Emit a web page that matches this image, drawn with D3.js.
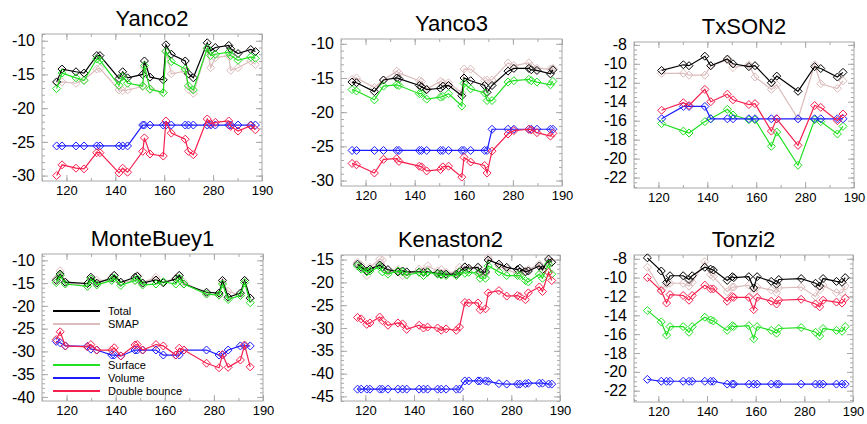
<!DOCTYPE html>
<html>
<head>
<meta charset="utf-8">
<script src="https://cdn.jsdelivr.net/npm/d3@7"></script>
<style>
  body { margin: 0; background: #fff; }
  svg { display: block; font-family: Helvetica, Arial, "Liberation Sans", sans-serif; }
</style>
</head>
<body>
<svg id="chart" width="867" height="424"></svg>
<script>
// series shared by every panel
const seriesNames = ['Total', 'SMAP', 'Surface', 'Volume', 'Double bounce'];
const seriesColors = ['#000000', '#dcbcbc', '#22e022', '#1c1cff', '#f5204e'];

const xDomain = [110, 200];
const xTicks = [120, 140, 160, 180, 200];
const xTickLabels = ['120', '140', '160', '280', '190'];

// Yanco2
const yanco2Days = [116.0,118.2,123.9,127.2,132.4,133.7,141.5,143.0,145.0,151.2,151.9,154.2,159.6,160.7,162.9,168.6,169.9,171.9,177.6,179.0,180.9,186.4,187.2,190.2,195.4,197.3];
const yanco2Total = [-16.1,-14.2,-14.6,-14.8,-12.2,-12.2,-15.6,-14.6,-15.5,-15.0,-13.0,-15.4,-15.8,-10.6,-12.0,-13.0,-14.9,-15.5,-10.3,-11.5,-11.0,-10.7,-11.2,-11.9,-11.3,-11.6];
const yanco2Smap = [-16.2,-16.1,-16.3,-15.8,-14.2,-14.1,-17.3,-17.4,-17.3,-16.8,-14.0,-17.1,-17.7,-11.5,-14.9,-14.5,-17.2,-17.8,-11.2,-14.0,-12.5,-12.2,-14.4,-14.0,-13.0,-13.5];
const yanco2Surface = [-17.1,-14.8,-15.5,-15.9,-12.7,-12.9,-16.6,-15.3,-16.3,-16.7,-13.7,-17.2,-17.7,-11.6,-13.1,-14.2,-16.7,-17.3,-11.1,-12.2,-12.0,-11.7,-12.2,-12.9,-12.4,-12.6];
const yanco2Volume = [-25.6,-25.6,-25.6,-25.6,-25.6,-25.6,-25.6,-25.6,-25.6,-22.5,-22.5,-22.5,-22.5,-22.5,-22.5,-22.5,-22.5,-22.5,-22.5,-22.5,-22.5,-22.5,-22.5,-22.5,-22.5,-22.5];
const yanco2Double = [-30.0,-28.4,-28.9,-29.0,-26.6,-26.6,-29.6,-28.9,-29.5,-26.4,-24.4,-26.8,-27.1,-21.9,-23.7,-24.6,-26.4,-26.9,-21.6,-22.3,-22.1,-21.9,-22.7,-23.4,-22.6,-23.2];

// Yanco3
const yanco3Days = [114.5,116.3,123.6,127.3,132.7,133.6,141.9,142.8,144.9,150.5,151.5,153.8,159.2,160.1,162.8,168.5,169.5,171.5,178.0,180.4,186.5,187.5,189.8,195.3,196.3];
const yanco3Total = [-15.6,-15.7,-17.0,-15.3,-15.0,-15.1,-16.1,-16.3,-16.7,-16.5,-16.2,-16.1,-17.6,-15.0,-15.4,-16.1,-17.1,-16.1,-14.0,-13.6,-13.6,-13.8,-13.9,-14.4,-13.8];
const yanco3Smap = [-15.2,-15.0,-16.4,-15.3,-14.0,-14.3,-15.4,-15.5,-16.6,-15.5,-15.7,-15.7,-17.2,-13.7,-13.7,-15.4,-15.3,-15.3,-12.8,-13.2,-12.8,-13.3,-13.6,-13.7,-13.6];
const yanco3Surface = [-16.7,-16.9,-18.2,-16.2,-16.0,-16.1,-17.3,-17.3,-18.1,-17.8,-17.7,-17.3,-19.1,-15.8,-16.6,-17.2,-18.3,-18.3,-15.6,-15.4,-15.2,-15.4,-15.6,-16.0,-15.5];
const yanco3Volume = [-25.6,-25.6,-25.6,-25.6,-25.6,-25.6,-25.6,-25.6,-25.6,-25.6,-25.6,-25.6,-25.6,-25.6,-25.6,-25.6,-25.6,-22.5,-22.5,-22.5,-22.5,-22.5,-22.5,-22.5,-22.5];
const yanco3Double = [-27.5,-27.7,-28.9,-26.9,-26.8,-27.2,-27.9,-28.0,-28.6,-28.4,-28.0,-27.9,-29.5,-26.6,-27.3,-27.8,-28.9,-25.7,-23.2,-22.7,-22.5,-22.6,-23.0,-23.5,-23.1];

// TxSON2
const txson2Days = [121.3,130.2,132.5,139.0,141.4,148.2,150.5,157.0,159.5,166.2,168.4,177.1,183.9,186.4,193.2,195.5];
const txson2Total = [-10.7,-10.1,-10.2,-9.2,-10.2,-9.5,-10.0,-10.3,-10.2,-12.0,-11.3,-12.9,-10.3,-10.5,-11.4,-10.9];
const txson2Smap = [-11.0,-11.0,-11.2,-11.2,-10.2,-9.6,-10.4,-10.1,-11.4,-12.7,-12.2,-15.8,-10.1,-12.1,-12.6,-11.8];
const txson2Surface = [-16.3,-17.1,-17.3,-16.1,-15.8,-14.8,-15.4,-15.9,-15.9,-18.7,-17.2,-20.7,-15.9,-16.1,-17.4,-16.6];
const txson2Volume = [-15.8,-14.5,-14.5,-14.5,-15.8,-15.8,-15.8,-15.8,-15.8,-15.8,-15.8,-15.8,-15.8,-15.8,-15.8,-15.8];
const txson2Double = [-14.9,-14.1,-14.4,-12.7,-14.0,-13.2,-13.8,-14.3,-14.2,-17.1,-15.8,-18.6,-14.4,-14.6,-16.0,-15.3];

// MonteBuey1
const monteDays = [115.8,117.4,119.5,128.5,129.9,132.3,138.4,139.4,142.1,147.9,148.8,151.0,156.4,159.4,164.5,165.9,167.8,177.0,182.1,183.5,185.8,190.8,192.5,194.8];
const monteTotal = [-14.4,-13.0,-14.8,-15.1,-13.7,-15.0,-13.9,-13.3,-14.8,-13.7,-13.5,-15.0,-14.3,-14.9,-14.1,-13.3,-15.2,-17.0,-17.2,-14.4,-18.1,-17.2,-14.4,-18.3];
const monteSmap = [-14.1,-12.3,-14.8,-15.7,-14.1,-14.4,-14.4,-13.3,-14.9,-14.4,-13.3,-14.9,-13.7,-14.9,-13.9,-13.3,-14.8,-17.4,-17.7,-14.9,-16.8,-17.7,-14.4,-18.3];
const monteSurface = [-14.9,-13.3,-15.2,-15.7,-14.1,-15.4,-14.4,-13.9,-15.5,-14.4,-14.1,-15.4,-15.2,-14.7,-15.2,-13.9,-15.2,-17.4,-17.6,-15.2,-18.6,-17.7,-14.9,-19.3];
const monteVolume = [-27.8,-28.1,-28.8,-28.9,-29.5,-29.7,-30.8,-30.8,-31.0,-29.7,-29.7,-29.7,-29.7,-30.8,-30.8,-30.8,-29.7,-29.7,-30.8,-30.8,-29.7,-28.8,-28.8,-28.8];
const monteDouble = [-27.4,-25.7,-28.8,-29.0,-28.5,-29.7,-29.7,-29.2,-31.0,-28.6,-28.5,-29.7,-28.5,-28.8,-30.8,-29.3,-29.7,-32.6,-33.6,-30.7,-33.5,-31.9,-28.6,-33.4];

// Kenaston2
const kenDays = [116.8,118.3,120.6,121.9,125.9,127.0,129.3,133.4,135.3,137.0,142.1,143.9,145.6,149.7,151.2,153.2,157.4,158.7,160.9,162.5,166.3,167.2,169.4,170.5,174.9,178.1,182.5,183.5,185.8,187.0,191.5,192.8,195.3,196.6];
const kenTotal = [-16.0,-16.7,-17.5,-17.1,-16.2,-16.7,-17.2,-17.7,-17.5,-17.7,-17.7,-17.8,-17.7,-18.0,-18.2,-18.2,-18.2,-17.7,-16.6,-16.9,-16.7,-17.8,-17.7,-15.1,-16.0,-16.7,-17.2,-16.9,-17.7,-17.5,-16.4,-17.2,-14.9,-15.6];
const kenSmap = [-15.6,-16.2,-18.5,-16.7,-14.9,-15.1,-17.7,-17.2,-18.5,-18.2,-17.1,-17.5,-16.4,-17.5,-17.2,-17.8,-17.8,-16.7,-16.7,-17.1,-16.6,-18.2,-18.0,-14.6,-16.4,-17.1,-18.2,-17.8,-17.5,-17.2,-16.0,-17.5,-15.3,-15.6];
const kenSurface = [-16.4,-17.1,-17.7,-17.5,-16.6,-17.7,-18.2,-17.5,-17.7,-18.4,-17.8,-18.5,-17.8,-18.2,-18.4,-18.5,-18.5,-17.8,-18.0,-17.8,-18.0,-19.1,-19.1,-16.4,-17.7,-18.5,-18.5,-18.5,-19.6,-19.9,-18.2,-19.1,-16.0,-18.2];
const kenVolume = [-43.4,-43.4,-43.4,-43.4,-43.4,-43.4,-43.4,-43.4,-43.4,-43.4,-43.4,-43.4,-43.4,-43.4,-43.4,-43.4,-43.4,-43.4,-41.6,-41.6,-41.6,-41.6,-41.6,-41.7,-42.2,-42.3,-42.3,-42.3,-42.2,-42.1,-42.1,-42.1,-42.3,-42.3];
const kenDouble = [-27.7,-28.0,-29.2,-28.9,-27.6,-28.4,-29.4,-28.9,-29.1,-30.3,-29.4,-30.0,-29.8,-30.0,-30.5,-30.2,-30.5,-29.8,-24.4,-24.5,-24.5,-26.0,-25.8,-22.3,-21.8,-23.0,-22.9,-23.1,-23.8,-22.3,-21.0,-22.0,-17.8,-19.6];

// Tonzi2
const tonziDays = [115.5,121.2,123.4,124.8,130.2,132.6,133.9,139.1,141.5,142.6,148.3,150.4,151.0,157.2,159.2,160.6,166.4,168.6,169.5,178.7,184.6,186.3,187.7,193.2,195.5,196.8];
const tonziTotal = [-7.9,-9.3,-10.5,-9.8,-9.8,-10.2,-9.8,-8.9,-9.1,-9.2,-10.3,-9.9,-10.0,-9.9,-11.1,-9.9,-10.4,-10.7,-10.2,-10.1,-10.6,-10.9,-10.1,-10.4,-10.5,-10.0];
const tonziSmap = [-8.9,-11.3,-10.7,-10.6,-10.6,-10.9,-10.5,-8.3,-9.7,-9.9,-11.5,-11.0,-11.0,-10.8,-11.6,-11.0,-11.3,-11.6,-11.1,-11.0,-12.0,-11.3,-10.8,-11.6,-11.6,-10.9];
const tonziSurface = [-13.5,-14.7,-16.1,-15.2,-15.2,-15.8,-15.2,-14.2,-14.5,-14.6,-15.6,-15.1,-15.2,-15.1,-16.5,-15.2,-15.6,-15.9,-15.4,-15.3,-15.8,-16.2,-15.4,-15.6,-15.7,-15.2];
const tonziVolume = [-20.8,-21.0,-21.0,-21.0,-21.0,-21.0,-21.0,-21.0,-21.0,-21.0,-21.3,-21.3,-21.3,-21.3,-21.3,-21.3,-21.3,-21.3,-21.3,-21.3,-21.3,-21.3,-21.3,-21.3,-21.3,-21.3];
const tonziDouble = [-10.0,-11.4,-12.7,-11.8,-11.9,-12.4,-11.9,-10.8,-11.2,-11.2,-12.5,-12.0,-12.1,-12.1,-13.4,-12.1,-12.5,-12.8,-12.4,-12.3,-12.8,-13.1,-12.4,-12.6,-12.7,-12.2];

// y axis tick labels per panel
const yTicksStep5a = [-10, -15, -20, -25, -30];
const yTicksStep2 = [-8, -10, -12, -14, -16, -18, -20, -22];
const yTicksStep5b = [-10, -15, -20, -25, -30, -35, -40];
const yTicksStep5c = [-15, -20, -25, -30, -35, -40, -45];

const sites = [
  { name: 'Yanco2', days: yanco2Days, values: [yanco2Total, yanco2Smap, yanco2Surface, yanco2Volume, yanco2Double],
    yDomain: [-30.8, -9.0], yTicks: yTicksStep5a, yMinor: 1, box: { left: 42, top: 34, width: 220, height: 147 } },
  { name: 'Yanco3', days: yanco3Days, values: [yanco3Total, yanco3Smap, yanco3Surface, yanco3Volume, yanco3Double],
    yDomain: [-30.8, -9.3], yTicks: yTicksStep5a, yMinor: 1, box: { left: 341, top: 39, width: 221, height: 147 } },
  { name: 'TxSON2', days: txson2Days, values: [txson2Total, txson2Smap, txson2Surface, txson2Volume, txson2Double],
    yDomain: [-23.1, -7.7], yTicks: yTicksStep2, yMinor: 0.5, box: { left: 634, top: 42, width: 220, height: 146 } },
  { name: 'MonteBuey1', days: monteDays, values: [monteTotal, monteSmap, monteSurface, monteVolume, monteDouble],
    yDomain: [-40.9, -8.6], yTicks: yTicksStep5b, yMinor: 1, box: { left: 42, top: 254, width: 221, height: 147 }, legend: true },
  { name: 'Kenaston2', days: kenDays, values: [kenTotal, kenSmap, kenSurface, kenVolume, kenDouble],
    yDomain: [-46.0, -14.0], yTicks: yTicksStep5c, yMinor: 1, box: { left: 341, top: 255, width: 219, height: 146 } },
  { name: 'Tonzi2', days: tonziDays, values: [tonziTotal, tonziSmap, tonziSurface, tonziVolume, tonziDouble],
    yDomain: [-23.2, -7.6], yTicks: yTicksStep2, yMinor: 0.5, box: { left: 634, top: 255, width: 219, height: 147 } }
];

// legend rows (offset from panel top) -- gap between SMAP and Surface like the original
const legendRows = [57, 70, 111, 124, 137];

const svg = d3.select('#chart');
svg.append('rect').attr('width', 867).attr('height', 424).attr('fill', '#fff');

const frameColor = '#a8a8a8';

// open diamond symbol
const diamond = {
  draw(ctx, size) {
    const r = Math.sqrt(size) / 2;
    ctx.moveTo(0, -r);
    ctx.lineTo(r, 0);
    ctx.lineTo(0, r);
    ctx.lineTo(-r, 0);
    ctx.closePath();
  }
};

function minorTicks(domain, step) {
  const lo = Math.min(domain[0], domain[1]);
  const hi = Math.max(domain[0], domain[1]);
  return d3.range(Math.ceil(lo / step) * step, hi + 1e-9, step);
}

function drawPanel(site) {
  const b = site.box;
  const g = svg.append('g').attr('transform', `translate(${b.left},${b.top})`);

  const x = d3.scaleLinear().domain(xDomain).range([0, b.width]);
  const y = d3.scaleLinear().domain(site.yDomain).range([b.height, 0]);

  // minor ticks on all four sides
  const xMin = minorTicks(xDomain, 10);
  const yMin = minorTicks(site.yDomain, site.yMinor);
  const axes = g.append('g').attr('class', 'axes').style('color', frameColor);

  axes.append('g').attr('transform', `translate(0,${b.height})`)
    .call(d3.axisBottom(x).tickValues(xMin).tickSize(-3).tickSizeOuter(0).tickFormat(''));
  axes.append('g')
    .call(d3.axisTop(x).tickValues(xMin).tickSize(-3).tickSizeOuter(0).tickFormat(''));
  axes.append('g')
    .call(d3.axisLeft(y).tickValues(yMin).tickSize(-3).tickSizeOuter(0).tickFormat(''));
  axes.append('g').attr('transform', `translate(${b.width},0)`)
    .call(d3.axisRight(y).tickValues(yMin).tickSize(-3).tickSizeOuter(0).tickFormat(''));

  // major ticks + labels
  const xAxis = axes.append('g').attr('transform', `translate(0,${b.height})`)
    .call(d3.axisBottom(x).tickValues(xTicks).tickSize(-6).tickSizeOuter(0).tickPadding(5)
      .tickFormat((d, i) => xTickLabels[i]));
  axes.append('g')
    .call(d3.axisTop(x).tickValues(xTicks).tickSize(-6).tickSizeOuter(0).tickFormat(''));
  const yAxis = axes.append('g')
    .call(d3.axisLeft(y).tickValues(site.yTicks).tickSize(-6).tickSizeOuter(0).tickPadding(7)
      .tickFormat(d => String(d)));
  axes.append('g').attr('transform', `translate(${b.width},0)`)
    .call(d3.axisRight(y).tickValues(site.yTicks).tickSize(-6).tickSizeOuter(0).tickFormat(''));

  axes.selectAll('.domain').remove();
  xAxis.selectAll('text').attr('fill', '#000').style('font-size', '13px');
  yAxis.selectAll('text').attr('fill', '#000').style('font-size', '16px');
  axes.attr('font-family', null);

  g.append('rect')
    .attr('width', b.width).attr('height', b.height)
    .attr('fill', 'none').attr('stroke', frameColor).attr('stroke-width', 1);

  // series: draw SMAP first, then the others
  const order = [1, 0, 2, 3, 4];
  const line = d3.line().x(d => x(d[0])).y(d => y(d[1]));
  const symbol = d3.symbol().type(diamond).size(64);

  order.forEach(k => {
    const pts = site.days.map((d, i) => [d, site.values[k][i]]);
    const s = g.append('g').attr('class', 'series');
    s.append('path')
      .datum(pts)
      .attr('fill', 'none')
      .attr('stroke', seriesColors[k])
      .attr('stroke-width', 1.2)
      .attr('d', line);
    s.selectAll('path.pt')
      .data(pts)
      .join('path')
      .attr('class', 'pt')
      .attr('transform', d => `translate(${x(d[0])},${y(d[1])})`)
      .attr('d', symbol)
      .attr('fill', 'none')
      .attr('stroke', seriesColors[k])
      .attr('stroke-width', 1);
  });

  // title
  svg.append('text')
    .attr('x', b.left + b.width / 2)
    .attr('y', b.top - 8)
    .attr('text-anchor', 'middle')
    .style('font-size', '22px')
    .attr('fill', '#000')
    .text(site.name);

  if (site.legend) {
    const lg = g.append('g').attr('class', 'legend');
    seriesNames.forEach((name, i) => {
      lg.append('line')
        .attr('x1', 11).attr('x2', 58)
        .attr('y1', legendRows[i]).attr('y2', legendRows[i])
        .attr('stroke', seriesColors[i]).attr('stroke-width', 2);
      lg.append('text')
        .attr('x', 66).attr('y', legendRows[i])
        .attr('dy', '0.35em')
        .style('font-size', '11px')
        .attr('fill', '#000')
        .text(name);
    });
  }
}

sites.forEach(drawPanel);
</script>
</body>
</html>
